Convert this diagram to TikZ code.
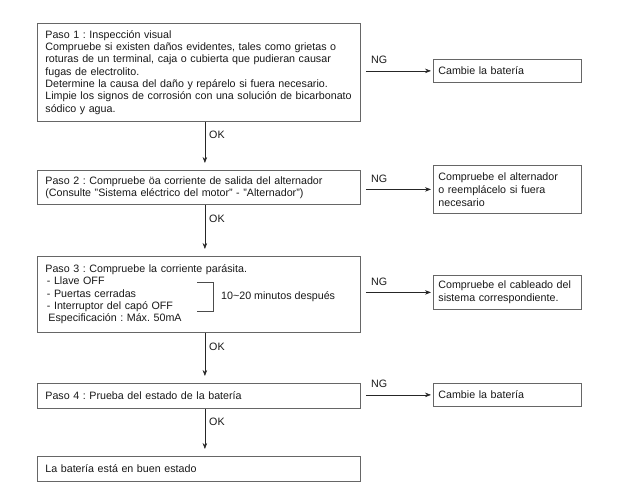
\documentclass[tikz,border=0pt]{standalone}
\usepackage{fontspec}
\setmainfont{Liberation Sans}
\usetikzlibrary{arrows.meta}
\frenchspacing
\begin{document}
\begin{tikzpicture}[x=1pt,y=-1pt,
  txt/.style={font=\fontsize{10.7}{12.3}\selectfont, text=black!90},
  mainbox/.style={txt, draw=black!60, line width=0.8pt, anchor=north west,
    minimum width=323pt, text width=307pt, inner xsep=8pt, inner ysep=2pt, align=left},
  sidebox/.style={txt, draw=black!60, line width=0.8pt, anchor=north west,
    minimum width=148pt, text width=138pt, inner xsep=5pt, inner ysep=2pt, align=left,
    font=\fontsize{10.7}{13}\selectfont},
  flow/.style={-{Stealth[length=6pt,width=4.5pt]}, line width=0.6pt, draw=black!85},
  lbl/.style={txt, inner sep=0pt}]
\useasboundingbox (0,0) rectangle (622,500);
\fill[white] (0,0) rectangle (622,500);

% main column
\node[mainbox, minimum height=98pt] (b1) at (37,23) {Paso 1 : Inspección visual\\
Compruebe si existen daños evidentes, tales como grietas o\\
roturas de un terminal, caja o cubierta que pudieran causar\\
fugas de electrolito.\\
Determine la causa del daño y repárelo si fuera necesario.\\
Limpie los signos de corrosión con una solución de bicarbonato\\
sódico y agua.};
\node[mainbox, minimum height=34pt] (b2) at (37,170) {Paso 2 : Compruebe öa corriente de salida del alternador\\
(Consulte "Sistema eléctrico del motor" - "Alternador")};
\node[mainbox, minimum height=76pt] (b3) at (37,256) {Paso 3 : Compruebe la corriente parásita.\\
\hspace*{1.5pt}- Llave OFF\\
\hspace*{1.5pt}- Puertas cerradas\\
\hspace*{1.5pt}- Interruptor del capó OFF\\
\hspace*{3pt}Especificación : Máx. 50mA};
\node[mainbox, minimum height=25pt] (b4) at (37,383) {Paso 4 : Prueba del estado de la batería};
\node[mainbox, minimum height=25pt] (b5) at (37,456) {La batería está en buen estado};

% bracket in step 3
\draw[black!70, line width=0.6pt] (197,282) -- (213,282) -- (213,311) -- (197,311);
\node[lbl, anchor=west] (tmin) at (221,297) {10\textasciitilde20 minutos después};

% side column
\node[sidebox, minimum height=23pt] (r1) at (433,59) {Cambie la batería};
\node[sidebox, minimum height=48pt] (r2) at (433,165) {Compruebe el alternador\\
o reemplácelo si fuera\\
necesario};
\node[sidebox, minimum height=34pt] (r3) at (433,275) {Compruebe el cableado del\\
sistema correspondiente.};
\node[sidebox, minimum height=23pt] (r4) at (433,383) {Cambie la batería};

% OK arrows
\foreach \a/\b in {b1/b2, b2/b3, b3/b4, b4/b5}{
  \draw[flow, shorten >=7pt] ([xshift=6pt]\a.south) -- ([xshift=6pt]\b.north)
    node[lbl, pos=0.28, anchor=west, xshift=4pt] {OK};
}

% NG arrows
\foreach \a/\b in {b1/r1, b2/r2, b3/r3, b4/r4}{
  \draw[flow, shorten <=5pt, shorten >=2pt] (\a.east |- \b.west) -- (\b.west)
    node[lbl, pos=0, anchor=base west, xshift=10pt, yshift=7pt] {NG};
}
\end{tikzpicture}
\end{document}
